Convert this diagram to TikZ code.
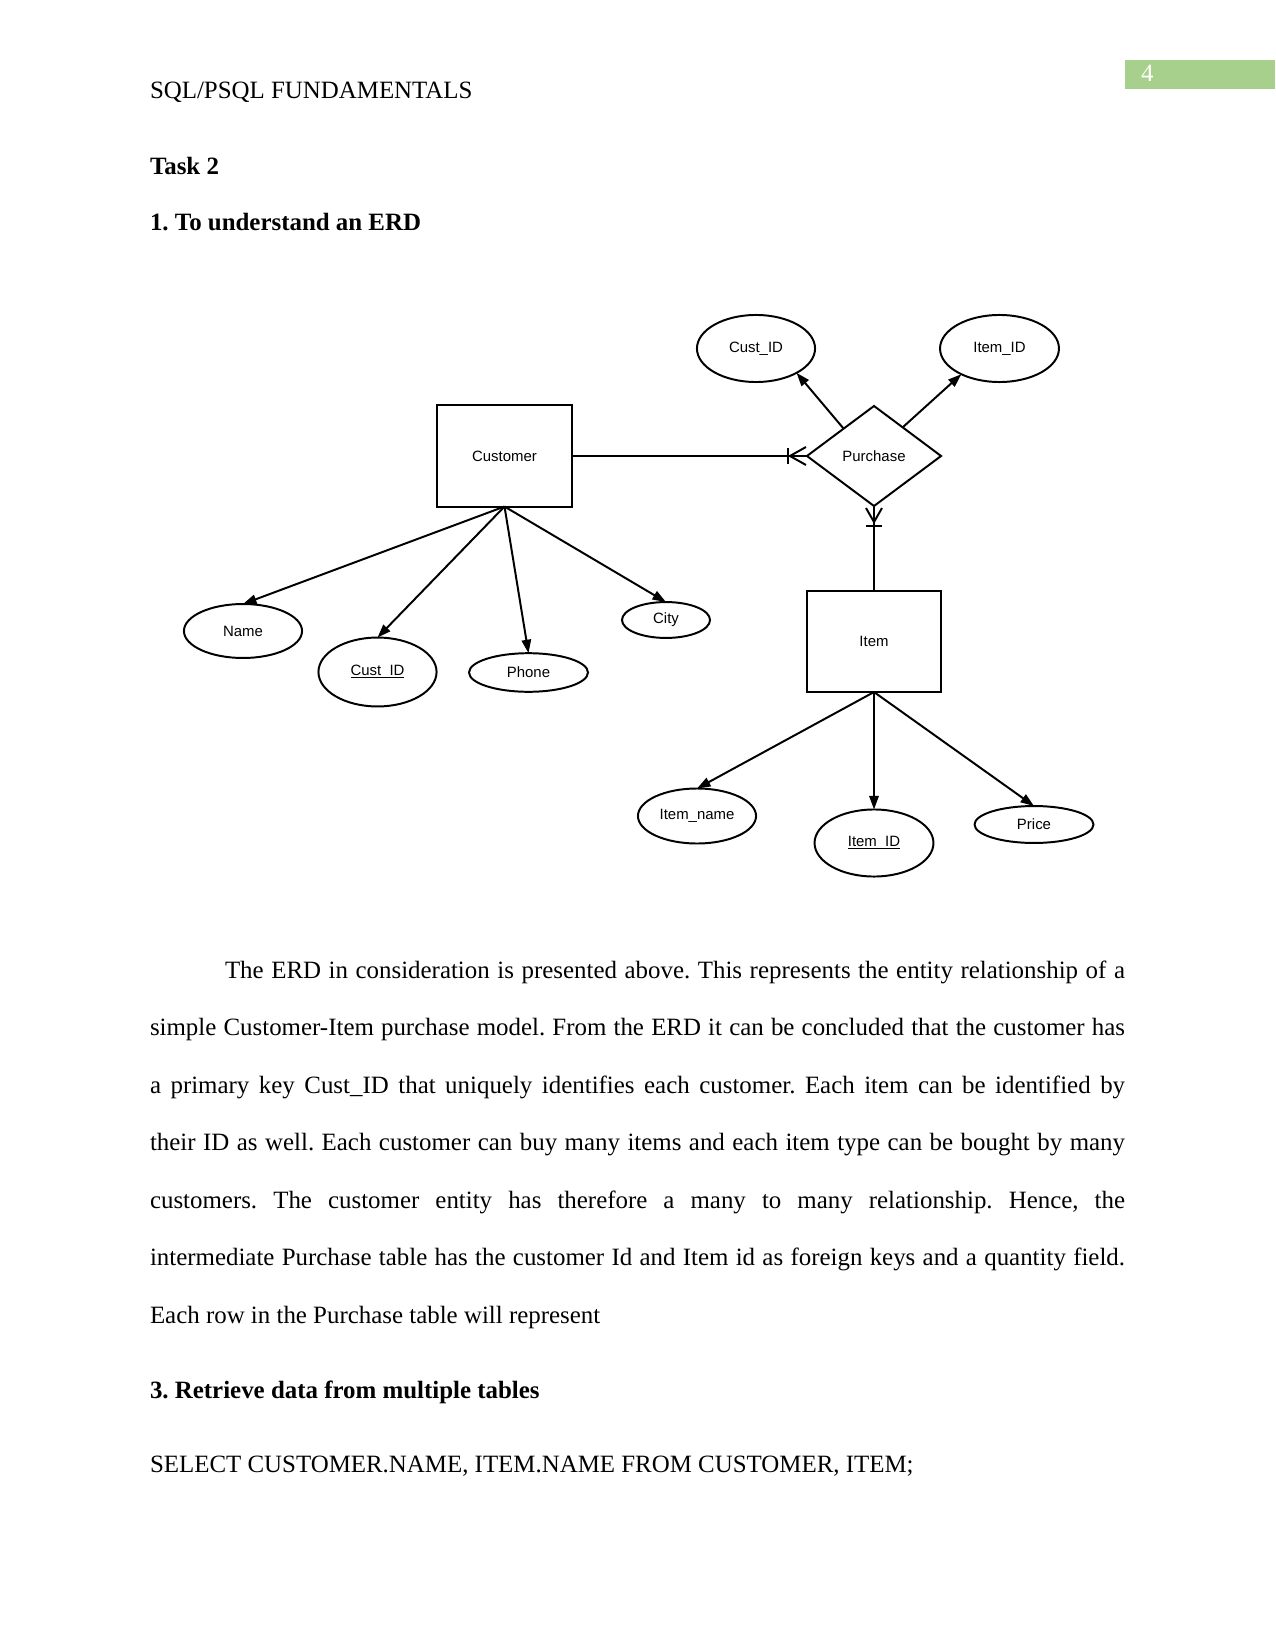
\documentclass[tikz,border=0pt]{standalone}
\usepackage{fontspec}
\setmainfont{Liberation Serif}
\newfontfamily\diagfont{Liberation Sans}
\usetikzlibrary{shapes.geometric,arrows.meta,calc}
\definecolor{pagegreen}{HTML}{A8D08D}
\newcommand\keyul[1]{{\setbox0\hbox{#1}\rlap{\rule[-1.3pt]{\wd0}{0.5pt}}\box0}}
\frenchspacing
\begin{document}
\begin{tikzpicture}[x=0.4818pt,y=-0.4818pt,
  every node/.style={inner sep=0pt,outer sep=0pt},
  txt/.style={anchor=base west,font=\fontsize{12}{14}\selectfont},
  hd/.style={anchor=base west,font=\fontsize{12}{14}\selectfont\bfseries},
  dfont/.style={font=\diagfont\fontsize{7.2}{8.6}\selectfont},
  entity/.style={draw,line width=0.95pt,rectangle,dfont,minimum width=64.8pt,minimum height=48.7pt},
  attr/.style={draw,line width=0.95pt,ellipse,dfont},
  rel/.style={draw,line width=0.95pt,diamond,dfont,minimum width=64.6pt,minimum height=48.2pt},
  conn/.style={line width=0.95pt},
  arr/.style={conn,-{Triangle[length=6.5pt,width=4.5pt]}},
]
\fill[white] (0,0) rectangle (1275,1650);
\useasboundingbox (0,0) rectangle (1275,1650);

% header
\fill[pagegreen] (1125,60) rectangle (1275,89);
\node[txt,text=white] (pgnum) at (1141,82) {4};
\node[txt] (header) at (150,99) {SQL/PSQL FUNDAMENTALS};
\node[hd] (task) at (150,175) {Task 2};
\node[hd] (sec1) at (150,231) {1. To understand an ERD};

% diagram
\node[entity] (cust) at (504.5,456) {Customer};
\node[rel] (purch) at (874,456) {Purchase};
\node[entity] (item) at (874,641.5) {Item};

\node[attr,minimum width=56.9pt,minimum height=32.3pt] (pcid) at (756,348.5) {Cust\_ID};
\node[attr,minimum width=57.3pt,minimum height=32.3pt] (piid) at (999.5,348.5) {Item\_ID};

\node[attr,minimum width=56.9pt,minimum height=26.0pt] (name) at (243,631) {Name};
\node[attr,minimum width=56.9pt,minimum height=33.2pt] (ccid) at (377.5,672) {\keyul{Cust\_ID}};
\node[attr,minimum width=57.3pt,minimum height=18.6pt] (phone) at (528.5,672.5) {Phone};
\node[attr,minimum width=42.4pt,minimum height=17.3pt] (city) at (666,620) {City};

\node[attr,minimum width=56.9pt,minimum height=26.5pt] (iname) at (697,816) {Item\_name};
\node[attr,minimum width=57.3pt,minimum height=32.3pt] (iid) at (874,843) {\keyul{Item\_ID}};
\node[attr,minimum width=57.3pt,minimum height=17.8pt] (price) at (1034,824.5) {Price};

% relationship connectors
\draw[conn] (cust.east) -- (purch.west);
\draw[conn] ($(purch.west)+(-17,0)$) -- ($(purch.west)+(-1,-9)$);
\draw[conn] ($(purch.west)+(-17,0)$) -- ($(purch.west)+(-1,9)$);
\draw[conn] ($(purch.west)+(-19,-8)$) -- ($(purch.west)+(-19,8)$);

\draw[conn] (purch.south) -- (item.north);
\draw[conn] ($(purch.south)+(0,16)$) -- ($(purch.south)+(-8,2)$);
\draw[conn] ($(purch.south)+(0,16)$) -- ($(purch.south)+(8,2)$);
\draw[conn] ($(purch.south)+(-8,20)$) -- ($(purch.south)+(8,20)$);

\draw[arr] (purch.138) -- (pcid.-31);
\draw[arr] (purch.45) -- (piid.-146);

% attribute connectors
\draw[arr] (cust.south) -- (name.north);
\draw[arr] (cust.south) -- (ccid.north);
\draw[arr] (cust.south) -- (phone.north);
\draw[arr] (cust.south) -- (city.north);

\draw[arr] (item.south) -- (iname.north);
\draw[arr] (item.south) -- (iid.north);
\draw[arr] (item.south) -- (price.north);

% body text
\node[txt] (l1) at (225,978) {\makebox[6in][s]{The ERD in consideration is presented above. This represents the entity relationship of a}};
\node[txt] (l2) at (150,1035.5) {\makebox[6.5in][s]{simple Customer-Item purchase model. From the ERD it can be concluded that the customer has}};
\node[txt] (l3) at (150,1093) {\makebox[6.5in][s]{a primary key Cust\_ID that uniquely identifies each customer. Each item can be identified by}};
\node[txt] (l4) at (150,1150.5) {\makebox[6.5in][s]{their ID as well. Each customer can buy many items and each item type can be bought by many}};
\node[txt] (l5) at (150,1208) {\makebox[6.5in][s]{customers. The customer entity has therefore a many to many relationship. Hence, the}};
\node[txt] (l6) at (150,1265.5) {\makebox[6.5in][s]{intermediate Purchase table has the customer Id and Item id as foreign keys and a quantity field.}};
\node[txt] (l7) at (150,1323) {Each row in the Purchase table will represent};

\node[hd] (sec3) at (150,1398) {3. Retrieve data from multiple tables};
\node[txt] (sql) at (150,1472) {SELECT CUSTOMER.NAME, ITEM.NAME FROM CUSTOMER, ITEM;};
\end{tikzpicture}
\end{document}
